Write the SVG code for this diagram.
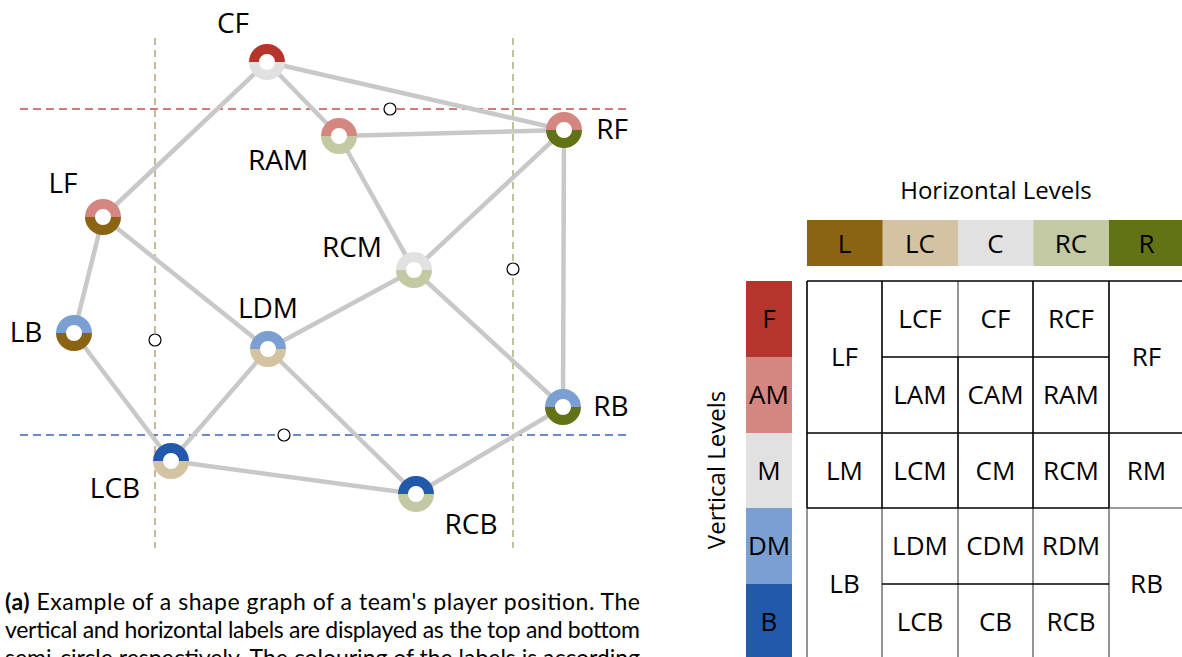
<svg xmlns="http://www.w3.org/2000/svg" width="1182" height="657" viewBox="0 0 1182 657">
<style>
.lbl{font-family:"Open Sans","Noto Sans",sans-serif;font-size:28px;fill:#000;text-anchor:middle}
.tb{font-family:"Open Sans","Noto Sans",sans-serif;font-size:26px;fill:#000;text-anchor:middle}
.tt{font-family:"Open Sans","Noto Sans",sans-serif;font-size:24px;fill:#000;text-anchor:middle}
.cap{font-family:Lato,"Open Sans",sans-serif;font-size:23px;fill:#000}
.edge{stroke:#c8c8c8;stroke-width:4.5;fill:none;stroke-linecap:round}
.ring{fill:none;stroke-width:10}
.hole{fill:#fff;stroke:none}
.mk{fill:#fff;stroke:#000;stroke-width:1.2}
.gb{stroke:#000;stroke-width:1.6;fill:none}
.gg{stroke:#7a7a7a;stroke-width:1.6;fill:none}
</style>
<defs>
<path id="top" d="M-13 0A13 13 0 0 1 13 0"/>
<path id="bot" d="M13 0A13 13 0 0 1 -13 0"/>
</defs>
<rect width="1182" height="657" fill="#fff"/>
<g id="guides" fill="none" stroke-width="1.3">
<line x1="155" y1="38" x2="155" y2="548" stroke="#ab9460" stroke-dasharray="7 5"/>
<line x1="513" y1="38" x2="513" y2="548" stroke="#9ba56a" stroke-dasharray="7 5"/>
<line x1="20" y1="109" x2="627" y2="109" stroke="#c0504d" stroke-dasharray="8 5"/>
<line x1="20" y1="435" x2="627" y2="435" stroke="#3a66b8" stroke-dasharray="8 5"/>
</g>
<g id="connectors">
<line class="edge" x1="267" y1="62" x2="103" y2="217"/>
<line class="edge" x1="267" y1="62" x2="339" y2="136"/>
<line class="edge" x1="267" y1="62" x2="564" y2="130"/>
<line class="edge" x1="339" y1="136" x2="564" y2="130"/>
<line class="edge" x1="339" y1="136" x2="414" y2="270"/>
<line class="edge" x1="564" y1="130" x2="414" y2="270"/>
<line class="edge" x1="564" y1="130" x2="563" y2="407"/>
<line class="edge" x1="103" y1="217" x2="74" y2="333"/>
<line class="edge" x1="103" y1="217" x2="268" y2="349"/>
<line class="edge" x1="414" y1="270" x2="268" y2="349"/>
<line class="edge" x1="414" y1="270" x2="563" y2="407"/>
<line class="edge" x1="74" y1="333" x2="171" y2="461"/>
<line class="edge" x1="268" y1="349" x2="171" y2="461"/>
<line class="edge" x1="268" y1="349" x2="416" y2="494"/>
<line class="edge" x1="171" y1="461" x2="416" y2="494"/>
<line class="edge" x1="416" y1="494" x2="563" y2="407"/>
</g>
<g id="markers">
<circle class="mk" cx="390" cy="109" r="6"/>
<circle class="mk" cx="513" cy="269" r="6"/>
<circle class="mk" cx="155" cy="340" r="6"/>
<circle class="mk" cx="284" cy="435" r="6"/>
</g>
<g id="node-CF" transform="translate(267,62)"><circle class="hole" r="9"/><use href="#top" class="ring" stroke="#b5352d"/><use href="#bot" class="ring" stroke="#e1e1e1"/></g>
<g id="node-RAM" transform="translate(339,136)"><circle class="hole" r="9"/><use href="#top" class="ring" stroke="#d48680"/><use href="#bot" class="ring" stroke="#c2c9a3"/></g>
<g id="node-RF" transform="translate(564,130)"><circle class="hole" r="9"/><use href="#top" class="ring" stroke="#d48680"/><use href="#bot" class="ring" stroke="#627316"/></g>
<g id="node-LF" transform="translate(103,217)"><circle class="hole" r="9"/><use href="#top" class="ring" stroke="#d48680"/><use href="#bot" class="ring" stroke="#8b6413"/></g>
<g id="node-RCM" transform="translate(414,270)"><circle class="hole" r="9"/><use href="#top" class="ring" stroke="#e1e1e1"/><use href="#bot" class="ring" stroke="#c2c9a3"/></g>
<g id="node-LB" transform="translate(74,333)"><circle class="hole" r="9"/><use href="#top" class="ring" stroke="#7b9fd1"/><use href="#bot" class="ring" stroke="#8b6413"/></g>
<g id="node-LDM" transform="translate(268,349)"><circle class="hole" r="9"/><use href="#top" class="ring" stroke="#7b9fd1"/><use href="#bot" class="ring" stroke="#d3c3a3"/></g>
<g id="node-RB" transform="translate(563,407)"><circle class="hole" r="9"/><use href="#top" class="ring" stroke="#7b9fd1"/><use href="#bot" class="ring" stroke="#627316"/></g>
<g id="node-LCB" transform="translate(171,461)"><circle class="hole" r="9"/><use href="#top" class="ring" stroke="#2259aa"/><use href="#bot" class="ring" stroke="#d3c3a3"/></g>
<g id="node-RCB" transform="translate(416,494)"><circle class="hole" r="9"/><use href="#top" class="ring" stroke="#2259aa"/><use href="#bot" class="ring" stroke="#c2c9a3"/></g>
<g id="labels">
<text class="lbl" x="233" y="33">CF</text>
<text class="lbl" x="278" y="170">RAM</text>
<text class="lbl" x="612" y="139">RF</text>
<text class="lbl" x="63" y="193">LF</text>
<text class="lbl" x="352" y="257">RCM</text>
<text class="lbl" x="268" y="318">LDM</text>
<text class="lbl" x="26" y="342">LB</text>
<text class="lbl" x="611" y="416">RB</text>
<text class="lbl" x="115" y="498">LCB</text>
<text class="lbl" x="471" y="534">RCB</text>
</g>
<g id="caption">
<text class="cap" x="5" y="610" textLength="635" lengthAdjust="spacing"><tspan font-weight="bold">(a)</tspan> Example of a shape graph of a team's player position. The</text>
<text class="cap" x="5" y="638" textLength="635" lengthAdjust="spacing">vertical and horizontal labels are displayed as the top and bottom</text>
<text class="cap" x="5" y="666" textLength="635" lengthAdjust="spacing">semi-circle respectively. The colouring of the labels is according</text>
</g>
<g id="horizontal-levels">
<text class="tt" x="996" y="199">Horizontal Levels</text>
<rect x="807" y="220" width="76" height="46" fill="#8b6413"/>
<rect x="882.5" y="220" width="76" height="46" fill="#d3c3a3"/>
<rect x="958" y="220" width="76" height="46" fill="#e1e1e1"/>
<rect x="1033.5" y="220" width="76" height="46" fill="#c2c9a3"/>
<rect x="1109" y="220" width="76" height="46" fill="#627316"/>
<text class="tb" x="844.5" y="252.5">L</text>
<text class="tb" x="920" y="252.5">LC</text>
<text class="tb" x="995.5" y="252.5">C</text>
<text class="tb" x="1071" y="252.5">RC</text>
<text class="tb" x="1146.5" y="252.5">R</text>
</g>
<g id="vertical-levels">
<text class="tt" transform="translate(725,470) rotate(-90)" x="0" y="0">Vertical Levels</text>
<rect x="746" y="281" width="46" height="76.5" fill="#b5352d"/>
<rect x="746" y="357" width="46" height="76.5" fill="#d48680"/>
<rect x="746" y="433" width="46" height="75.5" fill="#e1e1e1"/>
<rect x="746" y="508" width="46" height="76.5" fill="#7b9fd1"/>
<rect x="746" y="584" width="46" height="76" fill="#2259aa"/>
<text class="tb" x="769" y="328">F</text>
<text class="tb" x="769" y="404">AM</text>
<text class="tb" x="769" y="480">M</text>
<text class="tb" x="769" y="555">DM</text>
<text class="tb" x="769" y="631">B</text>
</g>
<g id="grid">
<line class="gg" x1="807" y1="508" x2="807" y2="660"/>
<line class="gg" x1="882" y1="508" x2="882" y2="660"/>
<line class="gg" x1="958" y1="508" x2="958" y2="660"/>
<line class="gg" x1="1033" y1="508" x2="1033" y2="660"/>
<line class="gg" x1="1109" y1="508" x2="1109" y2="660"/>
<line class="gg" x1="958" y1="281" x2="958" y2="357"/>
<line class="gg" x1="1109" y1="508" x2="1182" y2="508"/>
<line class="gb" x1="807" y1="281" x2="1182" y2="281"/>
<line class="gb" x1="807" y1="281" x2="807" y2="508"/>
<line class="gb" x1="882" y1="281" x2="882" y2="508"/>
<line class="gb" x1="1109" y1="281" x2="1109" y2="508"/>
<line class="gb" x1="1033" y1="281" x2="1033" y2="357"/>
<line class="gb" x1="882" y1="357" x2="1109" y2="357" stroke-width="2"/>
<line class="gb" x1="958" y1="357" x2="958" y2="508" stroke-width="2.2"/>
<line class="gb" x1="1033" y1="357" x2="1033" y2="508"/>
<line class="gb" x1="807" y1="433" x2="1182" y2="433" stroke-width="1.8"/>
<line class="gb" x1="807" y1="508" x2="1109" y2="508" stroke-width="2"/>
<line class="gb" x1="882" y1="584" x2="1109" y2="584" stroke-width="1.2"/>
</g>
<g id="cells">
<text class="tb" x="844.5" y="366">LF</text>
<text class="tb" x="920" y="328">LCF</text>
<text class="tb" x="995.5" y="328">CF</text>
<text class="tb" x="1071" y="328">RCF</text>
<text class="tb" x="1146.5" y="366">RF</text>
<text class="tb" x="920" y="404">LAM</text>
<text class="tb" x="995.5" y="404">CAM</text>
<text class="tb" x="1071" y="404">RAM</text>
<text class="tb" x="844.5" y="480">LM</text>
<text class="tb" x="920" y="480">LCM</text>
<text class="tb" x="995.5" y="480">CM</text>
<text class="tb" x="1071" y="480">RCM</text>
<text class="tb" x="1146.5" y="480">RM</text>
<text class="tb" x="920" y="555">LDM</text>
<text class="tb" x="995.5" y="555">CDM</text>
<text class="tb" x="1071" y="555">RDM</text>
<text class="tb" x="844.5" y="593">LB</text>
<text class="tb" x="1146.5" y="593">RB</text>
<text class="tb" x="920" y="631">LCB</text>
<text class="tb" x="995.5" y="631">CB</text>
<text class="tb" x="1071" y="631">RCB</text>
</g>
</svg>
